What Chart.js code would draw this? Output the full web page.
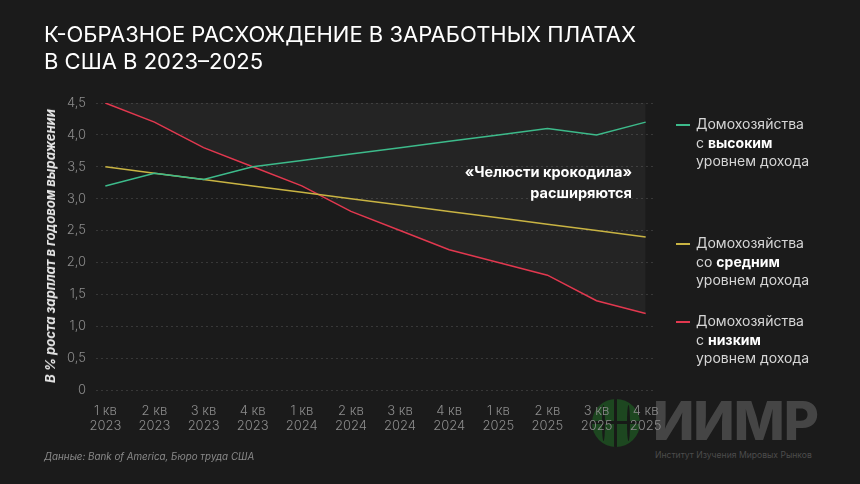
<!DOCTYPE html>
<html lang="ru">
<head>
<meta charset="utf-8">
<script src="https://cdn.jsdelivr.net/npm/chart.js@4.4.1/dist/chart.umd.min.js"></script>
<style>
  html, body { margin: 0; padding: 0; background: #1b1b1b; }
  body { width: 860px; height: 484px; position: relative; overflow: hidden; font-family: "Inter", "Noto Sans", sans-serif; color: #fff; }
  #chart { position: absolute; left: 0; top: 0; width: 860px; height: 484px; z-index: 2; }
  .title { position: absolute; left: 44px; top: 21px; font-size: 22px; line-height: 27px; font-weight: 400; letter-spacing: 0; z-index: 3; }
  .ytitle { position: absolute; left: 50px; top: 246px; transform: translate(-50%, -50%) rotate(-90deg); white-space: nowrap; font-size: 13px; font-weight: 700; font-style: italic; color: #e8e8e8; z-index: 3; }
  .note { position: absolute; right: 228px; top: 161px; text-align: right; font-size: 14.5px; line-height: 21px; font-weight: 700; color: #fff; z-index: 3; }
  .leg { position: absolute; left: 676px; padding-left: 20px; font-size: 14px; line-height: 18.5px; color: #d6d6d6; z-index: 3; }
  .leg b { color: #fff; }
  .leg .sw { position: absolute; left: 0; top: 9px; width: 14px; height: 1.5px; }
  .source { position: absolute; left: 44px; top: 451px; font-size: 9.8px; font-style: italic; color: #8a8a8a; z-index: 3; }
  .globe { position: absolute; left: 592px; top: 399px; width: 48px; height: 48px; border-radius: 50%; background: #1d4720; z-index: 1; overflow: hidden; }
  .globe .ln { position: absolute; background: #171a17; }
  .logo { position: absolute; left: 653px; top: 390px; font-size: 54px; font-weight: 800; color: #454545; letter-spacing: -1px; z-index: 1; line-height: 62px; }
  .logosub { position: absolute; left: 655px; top: 450px; font-size: 8.6px; color: #4c4c4c; z-index: 1; white-space: nowrap; }
</style>
</head>
<body>
<div class="title">К-ОБРАЗНОЕ РАСХОЖДЕНИЕ В ЗАРАБОТНЫХ ПЛАТАХ<br>В США В 2023–2025</div>
<div class="ytitle">В % роста зарплат в годовом выражении</div>
<div class="note">«Челюсти крокодила»<br>расширяются</div>
<div class="leg" style="top:115px"><span class="sw" style="background:#3dbb8b"></span>Домохозяйства<br>с <b>высоким</b><br>уровнем дохода</div>
<div class="leg" style="top:234px"><span class="sw" style="background:#c9b443"></span>Домохозяйства<br>со <b>средним</b><br>уровнем дохода</div>
<div class="leg" style="top:312px"><span class="sw" style="background:#e2384f"></span>Домохозяйства<br>с <b>низким</b><br>уровнем дохода</div>
<div class="source">Данные: Bank of America, Бюро труда США</div>
<div class="globe">
  <div class="ln" style="left:22px;top:0;width:3px;height:48px"></div>
  <div class="ln" style="left:0;top:22px;width:48px;height:3px"></div>
  <div class="ln" style="left:10px;top:6px;width:3px;height:36px;border-radius:50%"></div>
  <div class="ln" style="left:35px;top:6px;width:3px;height:36px;border-radius:50%"></div>
</div>
<div class="logo">ИИМР</div>
<div class="logosub">Институт Изучения Мировых Рынков</div>
<canvas id="chart" width="860" height="484"></canvas>

<script>
const categories = [
  ["1 кв", "2023"], ["2 кв", "2023"], ["3 кв", "2023"], ["4 кв", "2023"],
  ["1 кв", "2024"], ["2 кв", "2024"], ["3 кв", "2024"], ["4 кв", "2024"],
  ["1 кв", "2025"], ["2 кв", "2025"], ["3 кв", "2025"], ["4 кв", "2025"]
];
const highIncome = [3.2, 3.4, 3.3, 3.5, 3.6, 3.7, 3.8, 3.9, 4.0, 4.1, 4.0, 4.2];
const middleIncome = [3.5, 3.4, 3.3, 3.2, 3.1, 3.0, 2.9, 2.8, 2.7, 2.6, 2.5, 2.4];
const lowIncome = [4.5, 4.2, 3.8, 3.5, 3.2, 2.8, 2.5, 2.2, 2.0, 1.8, 1.4, 1.2];
const yMax = 4.5;
const yStep = 0.5;

const toPoints = (arr) => arr.map((v, i) => ({ x: i, y: v }));

const ctx = document.getElementById("chart").getContext("2d");

new Chart(ctx, {
  type: "line",
  data: {
    datasets: [
      {
        label: "high",
        data: toPoints(highIncome),
        borderColor: "#3dbb8b",
        borderWidth: 1.5,
        pointRadius: 0,
        fill: false
      },
      {
        label: "middle",
        data: toPoints(middleIncome),
        borderColor: "#c9b443",
        borderWidth: 1.5,
        pointRadius: 0,
        fill: false
      },
      {
        label: "low",
        data: toPoints(lowIncome),
        borderColor: "#e2384f",
        borderWidth: 1.5,
        pointRadius: 0,
        fill: "end",
        backgroundColor: "rgba(255, 255, 255, 0.045)"
      }
    ]
  },
  options: {
    responsive: false,
    animation: false,
    layout: {
      padding: { left: 0, top: 103, right: 205, bottom: 44 }
    },
    plugins: {
      legend: { display: false },
      tooltip: { enabled: false }
    },
    scales: {
      x: {
        type: "linear",
        min: -0.19,
        max: 11.19,
        grid: { display: false },
        border: { display: false },
        afterFit: (scale) => { scale.height = 50; },
        ticks: {
          stepSize: 1,
          includeBounds: false,
          autoSkip: false,
          maxRotation: 0,
          padding: 5,
          color: "#8c8c8c",
          font: { family: "Inter", size: 13, weight: 300 },
          callback: (v) => (Number.isInteger(v) ? categories[v] : "")
        }
      },
      y: {
        min: 0,
        max: yMax,
        grid: {
          color: "rgba(255, 255, 255, 0.13)",
          drawTicks: false
        },
        border: { display: false, dash: [2, 3] },
        afterFit: (scale) => { scale.width = 96; },
        ticks: {
          stepSize: yStep,
          padding: 10,
          color: "#8c8c8c",
          font: { family: "Inter", size: 13, weight: 300 },
          callback: (v) => (v === 0 ? "0" : v.toFixed(1).replace(".", ","))
        }
      }
    }
  }
});
</script>
</body>
</html>
